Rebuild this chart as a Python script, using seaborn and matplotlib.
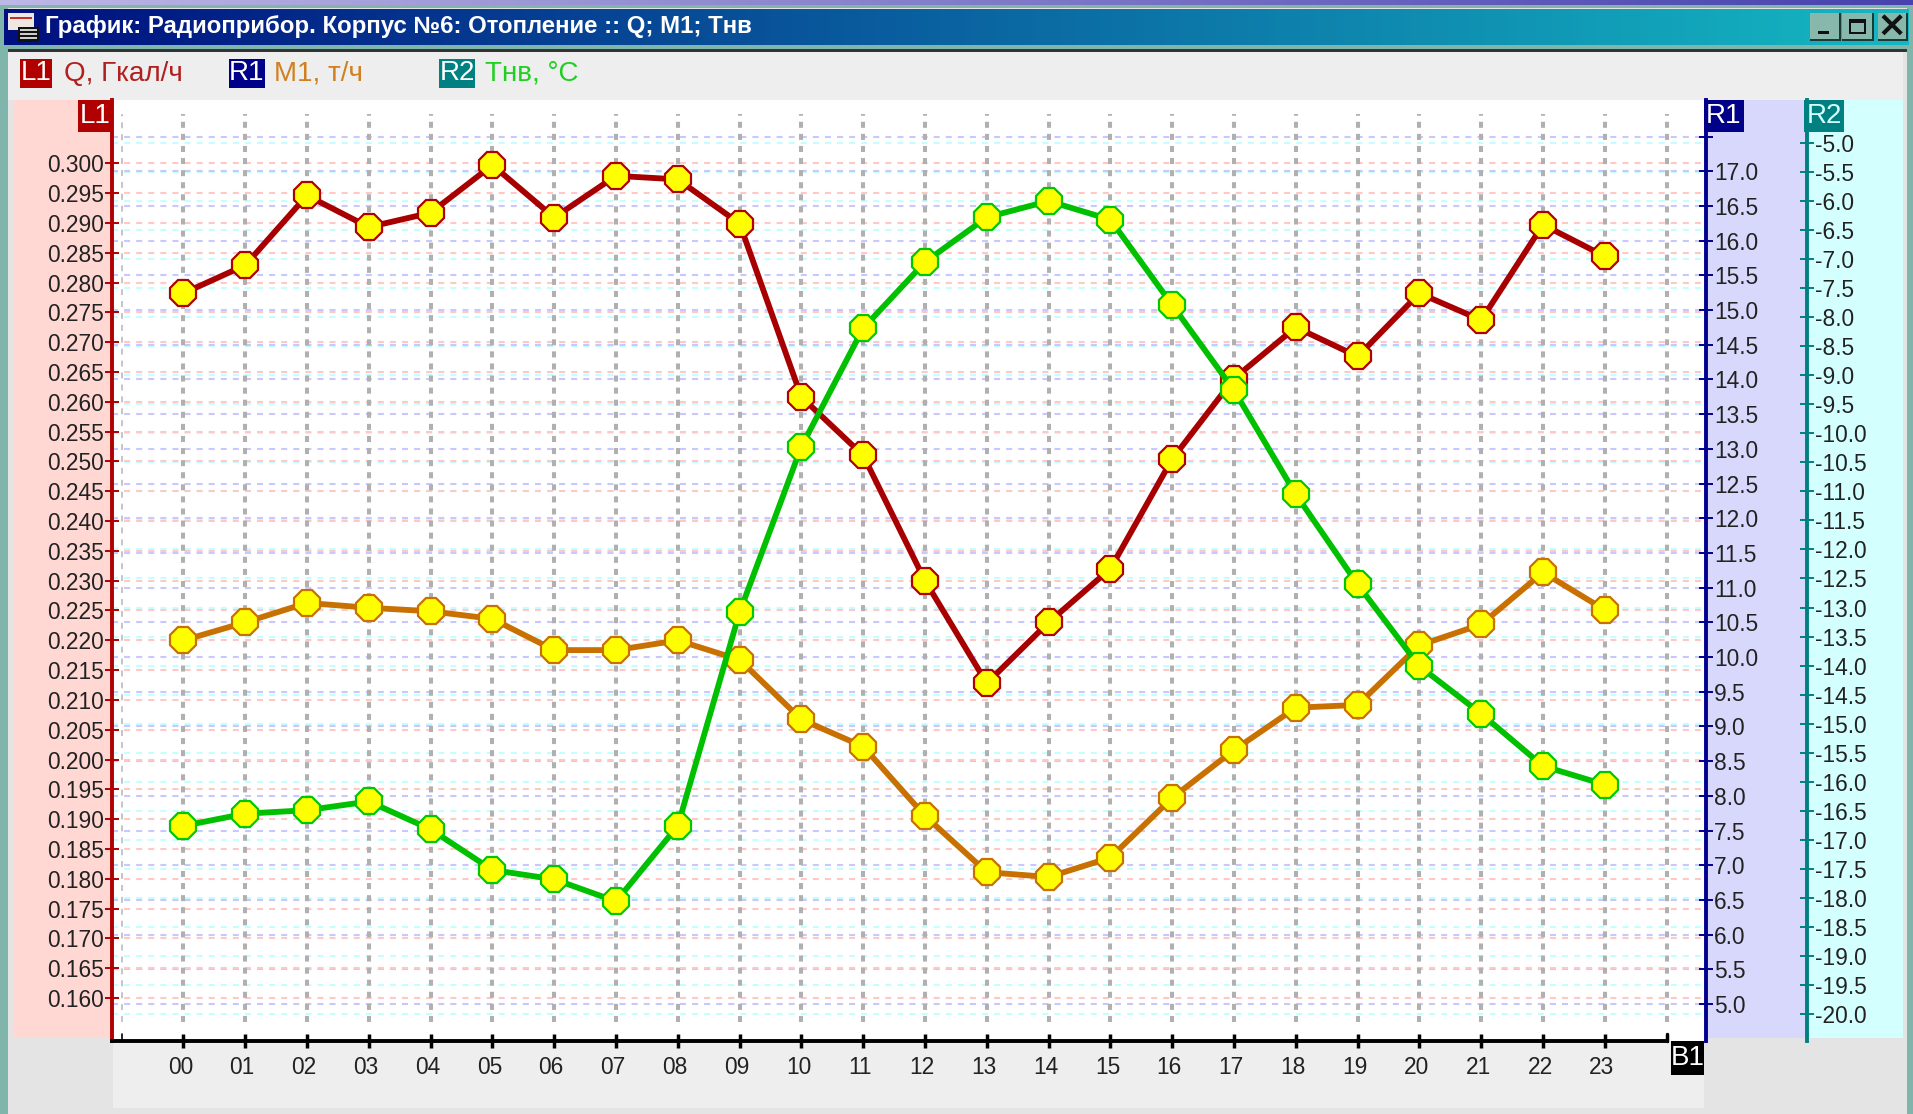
import matplotlib
matplotlib.use("Agg")
import matplotlib.pyplot as plt
import numpy as np
import pandas as pd
import seaborn as sns
from matplotlib.patches import Rectangle
from matplotlib.transforms import ScaledTranslation

hours = ["%02d" % h for h in range(24)]
q_gcal = [0.2782, 0.2829, 0.2946, 0.2893, 0.2917, 0.2997, 0.2909, 0.2979, 0.2973, 0.2899, 0.2608, 0.2510,
          0.2300, 0.2128, 0.2230, 0.2320, 0.2504, 0.2639, 0.2725, 0.2676, 0.2782, 0.2737, 0.2897, 0.2844]
m1_th = [10.24, 10.50, 10.78, 10.71, 10.66, 10.55, 10.10, 10.10, 10.24, 9.96, 9.10, 8.71,
         7.71, 6.90, 6.83, 7.11, 7.97, 8.66, 9.27, 9.31, 10.17, 10.47, 11.22, 10.68]
t_air = [-16.76, -16.55, -16.49, -16.34, -16.82, -17.52, -17.68, -18.06, -16.76, -13.08, -10.23, -8.19,
         -7.05, -6.28, -6.00, -6.32, -7.79, -9.26, -11.05, -12.60, -14.01, -14.83, -15.73, -16.05]
l1_ticks = [round(0.160 + 0.005 * i, 3) for i in range(29)]
r1_ticks = [5.0 + 0.5 * i for i in range(26)]
r2_ticks = [-20.0 + 0.5 * i for i in range(31)]

W, H = 1913, 1114
sns.set_theme(style="white")
plt.rcParams["font.family"] = ["Liberation Sans", "DejaVu Sans"]
FS = 16.4
LEG = 20
TXT = "#222222"
fig = plt.figure(figsize=(W / 100, H / 100), dpi=100, facecolor="#e4e4e4")

def fx(p): return p / W
def fy(p): return 1 - p / H
def frect(x0, y0, x1, y1, color, z=0):
    fig.add_artist(Rectangle((fx(x0), fy(y1)), (x1 - x0) / W, (y1 - y0) / H, transform=fig.transFigure,
                             facecolor=color, edgecolor="none", zorder=z))
def flabel(x0, y0, x1, y1, color, s, fc="white", fs=LEG):
    frect(x0, y0, x1, y1, color, z=5)
    fig.text(fx((x0 + x1) / 2), fy((y0 + y1) / 2), s, color=fc, fontsize=fs, ha="center", va="center", zorder=6)

# window chrome
frect(0, 0, W, 8, "#7fb5aa")
grad_top = fig.add_axes([0, fy(5), 1, 5 / H], zorder=1); grad_top.axis("off")
g0, g1 = np.array([0.74, 0.72, 0.9]), np.array([0.28, 0.26, 0.68])
grad_top.imshow(g0 + np.linspace(0, 1, 256)[None, :, None] * (g1 - g0), aspect="auto")
frect(0, 0, 8, H, "#7fb5aa")
frect(W - 6, 0, W, H, "#7fb5aa")
frect(0, 45, W, 50, "#7fb5aa")
tb = fig.add_axes([fx(4), fy(45), (W - 8) / W, 36 / H], zorder=1); tb.axis("off")
c0, c1 = np.array([0, 0.06, 0.5]), np.array([0.08, 0.72, 0.76])
tb.imshow(c0 + np.linspace(0, 1, 256)[None, :, None] * (c1 - c0), aspect="auto")
frect(8, 49, W - 6, 52, "#333333")
frect(8, 52, W - 10, 100, "#eeeeee")
frect(W - 10, 52, W - 6, H, "#e4e4e4")
frect(14, 100, 112, 1038, "#ffd8d4")
frect(1706, 100, 1807, 1038, "#d8d8fc")
frect(1807, 100, 1903, 1038, "#d4ffff")
frect(113, 1041, 1704, 1108, "#eeeeee")
frect(113, 100, 1706, 1041, "#ffffff")

fig.text(fx(45), fy(27), "График: Радиоприбор. Корпус №6: Отопление :: Q; M1; Тнв", color="white",
         fontsize=17.3, fontweight="bold", ha="left", va="center", zorder=6)

# small window icon
frect(8, 13, 34, 30, "#f0e8e0", z=5)
frect(18, 27, 39, 42, "#111111", z=5)
for by in (29, 33, 37):
    frect(20, by, 37, by + 1.5, "#cccccc", z=6)
frect(10, 17, 32, 19, "#c03030", z=6)

# window buttons
for x0, x1 in [(1810, 1840), (1842, 1873), (1878, 1907)]:
    frect(x0, 13, x1 + 1, 41, "#1a3a38", z=5)
    frect(x0, 13, x1 - 1, 39, "#88b8ac", z=5)
frect(1818, 31, 1829, 34, "#111111", z=6)
frect(1849, 19, 1866, 34, "#111111", z=6)
frect(1851, 23, 1864, 32, "#88b8ac", z=6)
fig.text(fx(1892), fy(26), "×", fontsize=26, color="#111111", ha="center", va="center", zorder=6,
         family=["DejaVu Sans"], fontweight="bold")

# legend
flabel(20, 59, 52, 88, "#b00000", "L1")
fig.text(fx(64), fy(74), "Q, Гкал/ч", color="#b02020", fontsize=LEG, va="center", zorder=6)
flabel(229, 59, 265, 88, "#000088", "R1")
fig.text(fx(274), fy(74), "M1, т/ч", color="#d08020", fontsize=LEG, va="center", zorder=6)
flabel(439, 59, 475, 88, "#008080", "R2")
fig.text(fx(485), fy(74), "Тнв, °C", color="#20d020", fontsize=LEG, va="center", zorder=6)

# plot geometry (px)
L, R, T, B = 112.0, 1706.0, 100.0, 1041.0
rect = [fx(L), fy(B), (R - L) / W, (B - T) / H]
X_PER = 61.8
xlim = ((L - 183.4) / X_PER, (R - 183.4) / X_PER)
def ylim(v_a, p_a, v_b, p_b):
    k = (v_a - v_b) / (p_a - p_b)
    return (v_a + (B - p_a) * k, v_a + (T - p_a) * k)
lim_l = ylim(0.300, 163.3, 0.160, 998.0)
lim_r1 = ylim(17.0, 171.3, 5.0, 1004.0)
lim_r2 = ylim(-5.0, 143.0, -20.0, 1014.0)

# grid layers, below all the data
for z, (lim, ticks, col) in enumerate([(lim_r2, r2_ticks, "#c4ffff"),
                                       (lim_r1, r1_ticks, "#c8c8ff"),
                                       (lim_l, l1_ticks, "#ffc8c8")]):
    g = fig.add_axes(rect, zorder=2 + z * 0.1, facecolor="none")
    g.set_xlim(xlim); g.set_ylim(lim); g.axis("off")
    g.hlines(ticks, xlim[0], xlim[1] - 0.03, colors=col, linewidth=1.5, linestyles=(0, (2.9, 2.9)))
gv = fig.add_axes(rect, zorder=2.5, facecolor="none")
gv.set_xlim(xlim); gv.set_ylim(0, 1); gv.axis("off")
gv.vlines(np.arange(0, 25), 0.02, 0.985, colors="#b0b0b0", linewidth=2.9, linestyles=(0, (1.5, 1.5)))
gv.vlines([-1], 0.02, 0.985, colors="#c0c0c0", linewidth=1.3, linestyles=(0, (3.3, 3.3)))

df = pd.DataFrame({"hour": np.arange(24), "q": q_gcal, "m1": m1_th, "t": t_air})

def draw(z, col, lim, line, edge):
    a = fig.add_axes(rect, zorder=z, facecolor="none")
    sns.lineplot(data=df, x="hour", y=col, ax=a, color=line, linewidth=4.2, marker="8", markersize=20,
                 markerfacecolor="#ffff00", markeredgewidth=1.6, errorbar=None, clip_on=False)
    for ln in a.get_lines():
        ln.set_markeredgecolor(edge)
    a.set_xlim(xlim); a.set_ylim(lim)
    a.set_xlabel(""); a.set_ylabel("")
    for s in a.spines.values():
        s.set_visible(False)
    return a

ax2 = draw(3.0, "m1", lim_r1, "#c87000", "#c87000")
ax1 = draw(3.1, "q", lim_l, "#a80000", "#b00000")
ax3 = draw(3.2, "t", lim_r2, "#00c000", "#00c800")

# left axis
ax1.spines["left"].set_visible(True); ax1.spines["left"].set_color("#b00000"); ax1.spines["left"].set_linewidth(2.8)
ax1.set_yticks(l1_ticks, ["%.3f" % v for v in l1_ticks])
ax1.tick_params(axis="y", left=True, direction="inout", length=9.5, width=1.4, color="#b00000",
                labelsize=FS, labelcolor=TXT, pad=1)

# bottom axis
ax1.spines["bottom"].set_visible(True); ax1.spines["bottom"].set_color("black"); ax1.spines["bottom"].set_linewidth(2.8)
ax1.spines["bottom"].set_bounds(xlim[0], 24)
ax1.set_xticks(np.arange(24), hours)
ax1.tick_params(axis="x", bottom=True, direction="inout", length=10, width=2.5, color="black",
                labelsize=FS, labelcolor=TXT, pad=5.5)
shift = ScaledTranslation(-3 / 100, 0, fig.dpi_scale_trans)
for tk in ax1.xaxis.get_major_ticks():
    tk.label1.set_transform(tk.label1.get_transform() + shift)
ax1.plot([24, 24], [lim_l[0], lim_l[0] + 0.0012], color="black", lw=2.5, clip_on=False)
ax1.plot([-1, -1], [lim_l[0], lim_l[0] + 0.0012], color="black", lw=1.2, clip_on=False)

# R1 axis
ax2.set_xticks([])
ax2.yaxis.tick_right()
ax2.spines["right"].set_visible(True); ax2.spines["right"].set_color("#000090"); ax2.spines["right"].set_linewidth(2.8)
ax2.set_yticks(r1_ticks[:-1] + [17.5], ["%.1f" % v for v in r1_ticks[:-1]] + [""])
ax2.tick_params(axis="y", right=True, left=False, direction="inout", length=9.5, width=1.4, color="#000090",
                labelsize=FS, labelcolor=TXT, pad=1)

# R2 axis
ax3.set_xticks([])
ax3.yaxis.tick_right()
ax3.spines["right"].set_visible(True); ax3.spines["right"].set_color("#008080"); ax3.spines["right"].set_linewidth(2.8)
ax3.spines["right"].set_position(("outward", 101 * 72 / 100))
ax3.set_yticks(r2_ticks, ["%.1f" % v for v in r2_ticks])
ax3.tick_params(axis="y", right=True, left=False, direction="inout", length=9.5, width=1.4, color="#008080",
                labelsize=FS, labelcolor=TXT, pad=1)

# axis badges
flabel(78, 100, 112, 132, "#b00000", "L1")
flabel(1704, 100, 1744, 132, "#000088", "R1")
flabel(1804, 100, 1844, 132, "#008080", "R2", fc="#d4ffff")
flabel(1671, 1041, 1704, 1075, "#000000", "B1")
for t in fig.texts:
    t.set_zorder(20)

fig.savefig("out.png", dpi=100, facecolor=fig.get_facecolor())
